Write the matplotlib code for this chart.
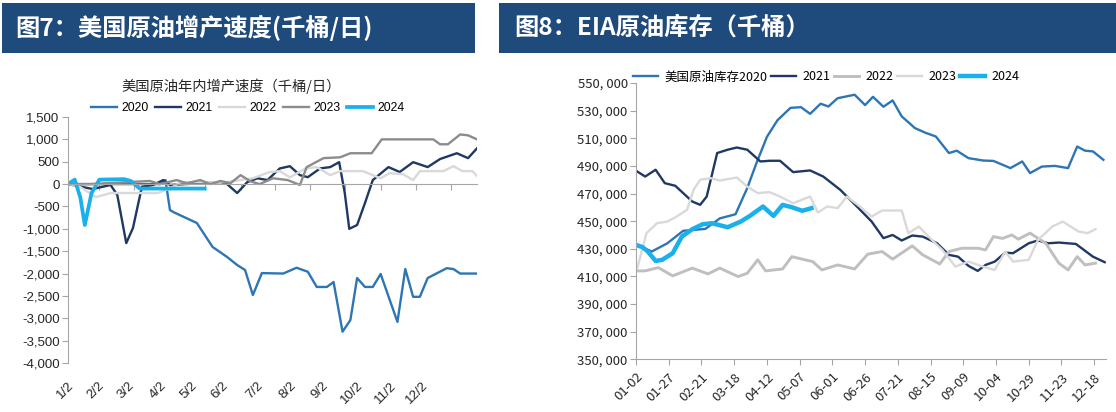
import matplotlib
matplotlib.use('Agg')
import matplotlib.pyplot as plt
from matplotlib.patches import Rectangle

plt.rcParams['font.family'] = ['Noto Sans CJK SC', 'DejaVu Sans']

# ---------------- data: left chart (day of year offset from 1/2, kb/d change) ----------------
left_years = ['2020', '2021', '2022', '2023', '2024']
days20 = [0, 82, 87, 91, 94, 115, 129, 142, 151, 158, 165, 173, 192, 204, 214, 222, 231, 237, 245, 252,
          258, 265, 272, 279, 294, 301, 308, 314, 321, 338, 344, 350, 365]
v20 = [0, 0, 90, -580, -625, -870, -1405, -1630, -1810, -1920, -2480, -1990, -2000, -1870, -1960, -2300,
       -2300, -2190, -3300, -3040, -2100, -2300, -2300, -2010, -3080, -1900, -2520, -2520, -2100, -1880,
       -1900, -2000, -2000]
days21 = [0, 22, 38, 44, 52, 58, 63, 66, 76, 85, 91, 136, 142, 151, 160, 169, 178, 189, 198, 207,
          214, 225, 234, 242, 247, 251, 258, 265, 272, 286, 296, 308, 321, 332, 347, 357, 365]
v21 = [0, -110, -20, -245, -1320, -980, -400, -60, -20, 90, -20, 45, 0, -200, 45, 130, 90, 350, 400, 200,
       155, 350, 380, 490, -200, -1000, -915, -425, 90, 380, 270, 490, 380, 560, 690, 580, 800]
days22 = [0, 10, 25, 38, 80, 92, 100, 140, 165, 180, 189, 198, 212, 222, 234, 243, 263, 279, 287, 299,
          308, 314, 335, 344, 352, 361, 365]
v22 = [0, -50, -290, -200, -200, -90, 40, 40, 130, 270, 290, 150, 350, 380, 200, 290, 290, 130, 245, 220,
       90, 290, 290, 400, 290, 290, 180]
days23 = [0, 20, 73, 82, 97, 106, 118, 127, 136, 145, 154, 163, 171, 183, 196, 207, 213, 228, 243, 252,
          271, 280, 326, 332, 339, 350, 357, 365]
v23 = [0, 0, 70, 0, 90, 20, 90, 0, 70, 20, 200, 60, 0, 130, 90, -20, 380, 580, 600, 690,
       690, 1000, 1000, 890, 890, 1110, 1090, 1000]
days24 = [0, 6, 11, 15, 21, 28, 50, 56, 64, 122]
v24 = [0, 100, -300, -915, -200, 100, 110, 70, -100, -100]
left_tick_labels = ['1/2', '2/2', '3/2', '4/2', '5/2', '6/2', '7/2', '8/2', '9/2', '10/2', '11/2', '12/2']

# ---------------- data: right chart (days from 01-02, thousand barrels) ----------------
right_labels = ['美国原油库存2020', '2021', '2022', '2023', '2024']
d20r = [1, 12, 24, 36, 53, 64, 76, 85, 92, 100, 108, 118, 126, 133, 141, 147, 154, 167, 175, 181,
        189, 196, 203, 213, 221, 229, 239, 245, 254, 265, 273, 286, 295, 301, 310, 320, 330, 337, 343, 349, 357]
v20r = [432800, 428000, 434000, 443000, 444400, 452000, 455000, 474000, 492000, 511000, 523000, 532000,
        532500, 527700, 535000, 533000, 539000, 541500, 534000, 540000, 532800, 537400, 525800, 517400,
        514000, 511300, 499300, 501000, 495600, 493900, 493600, 488400, 493200, 484800, 489500, 490000,
        488400, 504000, 501000, 500500, 494400]
d21r = [1, 7, 15, 22, 30, 43, 49, 54, 62, 70, 77, 85, 95, 102, 110, 120, 133, 143, 156, 170,
        180, 189, 196, 203, 211, 219, 230, 239, 246, 254, 261, 267, 274, 282, 288, 300, 307, 315, 323, 336, 349, 358]
v21r = [485900, 482300, 487200, 477500, 475600, 464200, 461800, 467800, 499300, 501700,
        503300, 501700, 493200, 493700, 493700, 485500, 486700, 482300, 472700, 459400,
        449700, 437700, 440000, 436000, 439600, 438800, 434000, 425600, 424300, 417600,
        414000, 418300, 420700, 427200, 426800, 434000, 436000, 434000, 434500, 433500, 424300, 420300]
d22r = [0, 7, 17, 28, 43, 55, 64, 78, 85, 93, 99, 112, 119, 135, 142, 154, 167, 177, 188, 196,
        211, 219, 232, 239, 249, 261, 267, 273, 280, 287, 292, 301, 313, 323, 330, 337, 343, 351]
v22r = [414000, 414000, 416400, 410400, 416000, 411800, 416000, 409900, 412300, 422000,
        414000, 415400, 424300, 420700, 414700, 418300, 415400, 426100, 428000, 422500,
        432100, 425600, 419000, 428000, 430400, 430400, 429200, 438800, 437500, 440000,
        437000, 441300, 434000, 419600, 414700, 424300, 418300, 419600]
d23r = [1, 8, 16, 24, 31, 39, 44, 49, 57, 64, 77, 85, 93, 102, 110, 120, 133, 139, 146, 154,
        161, 171, 180, 188, 203, 208, 216, 226, 234, 244, 254, 265, 274, 282, 288, 300, 307, 318, 326, 338, 345, 351]
v23r = [416000, 441300, 448500, 449700, 453300, 458200, 472700, 480000, 481100, 479400,
        481600, 475000, 470300, 471000, 467800, 463000, 467800, 456200, 460600, 459400,
        467800, 460600, 453300, 457700, 457700, 441300, 446100, 436400, 429200, 417100,
        420700, 417100, 414700, 428000, 420700, 422000, 436400, 446100, 449700, 442500, 441300, 444200]
d24r = [0, 5, 9, 15, 20, 28, 35, 43, 51, 58, 70, 80, 87, 97, 105, 112, 119, 127, 134]
v24r = [432800, 431200, 428000, 421200, 422000, 426800, 438800, 444200, 447800, 448500,
        445600, 449700, 453800, 460600, 453800, 461800, 460100, 457500, 459400]
right_tick_labels = ['01-02', '01-27', '02-21', '03-18', '04-12', '05-07', '06-01', '06-26',
                     '07-21', '08-15', '09-09', '10-04', '10-29', '11-23', '12-18']

title_left = '图7：美国原油增产速度(千桶/日)'
title_right = '图8：EIA原油库存（千桶）'
subtitle_left = '美国原油年内增产速度（千桶/日）'

# ---------------- layout constants ----------------
LEFT_TICK_MARKS = [28, 59, 91, 122, 154, 185, 216, 247, 279, 311, 342]      # tick marks on zero line
LEFT_LABEL_POS = [0, 27, 54, 82, 110, 137, 169, 198, 227, 258, 288, 316]      # where labels sit
RIGHT_TICKS = list(range(0, 351, 25))

W, H = 1116, 412
fig = plt.figure(figsize=(W / 100, H / 100), dpi=100)
fig.patch.set_facecolor('white')


def fx(px):
    return px / W


def fy(py):
    return 1 - py / H


BANNER = '#1F4A7C'
AXC = '#A6A6A6'
TXT = '#262626'
fig.patches.append(Rectangle((fx(2), fy(53)), 473 / W, 50 / H, transform=fig.transFigure,
                             facecolor=BANNER, edgecolor='none'))
fig.patches.append(Rectangle((fx(499), fy(53)), 617 / W, 50 / H, transform=fig.transFigure,
                             facecolor=BANNER, edgecolor='none'))
fig.text(fx(15), fy(28), title_left, color='white', fontsize=17.5, fontweight='bold',
         va='center', ha='left')
fig.text(fx(514), fy(28), title_right, color='white', fontsize=17.5, fontweight='bold',
         va='center', ha='left')

# ---------------- left chart ----------------
ax1 = fig.add_axes([fx(68), fy(363), (477 - 68) / W, (363 - 117) / H])
c = {'2020': '#2E75B6', '2021': '#1F3864', '2022': '#D9D9D9', '2023': '#8C8C8C', '2024': '#1AB0EC'}
ax1.plot(days20, v20, color=c['2020'], lw=1.7, label='2020')
ax1.plot(days21, v21, color=c['2021'], lw=1.7, label='2021')
ax1.plot(days22, v22, color=c['2022'], lw=1.7, label='2022')
ax1.plot(days23, v23, color=c['2023'], lw=1.7, label='2023')
ax1.plot(days24, v24, color=c['2024'], lw=2.7, label='2024')
ax1.set_xlim(0, 365)
ax1.set_ylim(-4000, 1500)
for s in ['top', 'right']:
    ax1.spines[s].set_visible(False)
ax1.spines['left'].set_color(AXC)
ax1.spines['bottom'].set_color(AXC)
ax1.spines['bottom'].set_position(('data', 0))
yt = list(range(-4000, 1501, 500))
ax1.set_yticks(yt)
ax1.set_yticklabels([f'{v:,}' for v in yt], fontfamily='Liberation Sans', fontsize=9.5, color=TXT)
ax1.tick_params(axis='y', direction='out', length=4, color=AXC, pad=2)
ax1.set_xticks(LEFT_TICK_MARKS)
ax1.tick_params(axis='x', direction='out', length=4, color=AXC, labelbottom=False)
sec = ax1.secondary_xaxis(0.0)
sec.set_xticks(LEFT_LABEL_POS)
sec.set_xticklabels(left_tick_labels, rotation=45, ha='right', rotation_mode='anchor',
                    fontfamily='Liberation Sans', fontsize=9.5, color=TXT)
sec.tick_params(length=0, pad=12)
sec.spines['bottom'].set_visible(False)
ax1.legend(ncol=5, loc='center', bbox_to_anchor=(fx(248), fy(108)), bbox_transform=fig.transFigure,
           frameon=False, prop={'family': 'Liberation Sans', 'size': 8.7}, handlelength=2.1,
           handletextpad=0.4, columnspacing=0.55, borderpad=0)
fig.text(fx(231), fy(86), subtitle_left, ha='center', va='center', fontsize=10.3, color=TXT)

# ---------------- right chart ----------------
ax2 = fig.add_axes([fx(636), fy(359.3), (1106 - 636) / W, (359.3 - 83) / H])
cr = {'2020': '#2E75B6', '2021': '#1F3864', '2022': '#BFBFBF', '2023': '#D9D9D9', '2024': '#1AB0EC'}
ax2.plot(d20r, v20r, color=cr['2020'], lw=1.7, label=right_labels[0])
ax2.plot(d21r, v21r, color=cr['2021'], lw=1.7, label=right_labels[1])
ax2.plot(d22r, v22r, color=cr['2022'], lw=2.1, label=right_labels[2])
ax2.plot(d23r, v23r, color=cr['2023'], lw=1.7, label=right_labels[3])
ax2.plot(d24r, v24r, color=cr['2024'], lw=3.2, label=right_labels[4])
ax2.set_xlim(0, 359)
ax2.set_ylim(350000, 550000)
for s in ['top', 'right']:
    ax2.spines[s].set_visible(False)
ax2.spines['left'].set_color(AXC)
ax2.spines['bottom'].set_color(AXC)
yt2 = list(range(350000, 550001, 20000))
ax2.set_yticks(yt2)
ax2.set_yticklabels([f'{v:,}'.replace(',', ', ') for v in yt2], fontsize=9.5, color=TXT)
ax2.tick_params(axis='y', direction='out', length=4, color=AXC, pad=2)
ax2.set_xticks(RIGHT_TICKS)
ax2.set_xticklabels(right_tick_labels, rotation=45, ha='right', rotation_mode='anchor',
                    fontsize=9.5, color=TXT)
ax2.tick_params(axis='x', direction='out', length=4, color=AXC, pad=4)
ax2.legend(ncol=5, loc='center', bbox_to_anchor=(fx(826), fy(77)), bbox_transform=fig.transFigure,
           frameon=False, prop={'size': 9}, handlelength=2.0, handletextpad=0.5,
           columnspacing=0.3, borderpad=0)

fig.savefig('out.png', dpi=100, facecolor='white')
